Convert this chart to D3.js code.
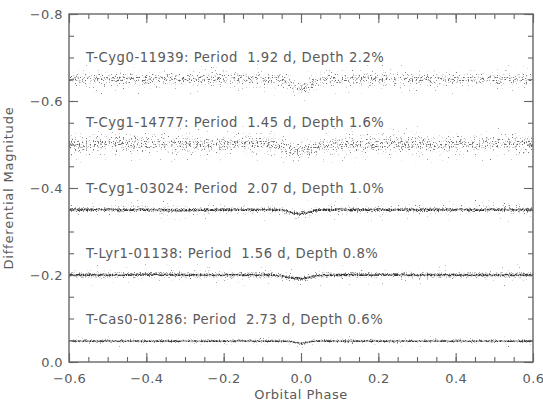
<!DOCTYPE html>
<html><head><meta charset="utf-8">
<script src="https://cdn.jsdelivr.net/npm/d3@7"></script>
<style>
body{margin:0;background:#fff}
svg{display:block}
text{font-family:"DejaVu Sans",sans-serif;fill:#5a5a5a}
</style>
</head><body>
<svg id="c" width="543" height="403"></svg>
<script>
// ---------- data ----------
const phase = [-0.6,-0.5,-0.4,-0.3,-0.2,-0.1,-0.06,-0.04,-0.02,0,0.02,0.04,0.06,0.1,0.2,0.3,0.4,0.5,0.6];
const names   = ["T-Cyg0-11939","T-Cyg1-14777","T-Cyg1-03024","T-Lyr1-01138","T-Cas0-01286"];
const periods = [1.92,1.45,2.07,1.56,2.73];
const depths  = [2.2,1.6,1.0,0.8,0.6];
// mean differential magnitude of each folded light curve at the phases above
const magCyg0_11939 = [-0.650,-0.651,-0.649,-0.650,-0.651,-0.650,-0.649,-0.644,-0.634,-0.628,-0.635,-0.645,-0.650,-0.651,-0.650,-0.649,-0.650,-0.651,-0.650];
const magCyg1_14777 = [-0.500,-0.502,-0.501,-0.500,-0.501,-0.500,-0.498,-0.493,-0.487,-0.485,-0.489,-0.495,-0.499,-0.501,-0.500,-0.501,-0.500,-0.502,-0.501];
const magCyg1_03024 = [-0.350,-0.350,-0.350,-0.349,-0.350,-0.350,-0.350,-0.348,-0.342,-0.341,-0.344,-0.349,-0.350,-0.350,-0.350,-0.350,-0.350,-0.350,-0.350];
const magLyr1_01138 = [-0.200,-0.200,-0.201,-0.200,-0.200,-0.200,-0.199,-0.196,-0.193,-0.192,-0.194,-0.198,-0.200,-0.200,-0.201,-0.200,-0.200,-0.200,-0.200];
const magCas0_01286 = [-0.048,-0.048,-0.048,-0.048,-0.048,-0.048,-0.048,-0.048,-0.046,-0.043,-0.046,-0.048,-0.048,-0.048,-0.048,-0.048,-0.048,-0.048,-0.048];
// half-width of the point scatter (mag): far outliers, outer band, main band, dense core
const scatterFar   = [0.036,0.042,0.028,0.026,0.014];
const scatterOuter = [0.020,0.026,0.012,0.011,0.007];
const scatterMid   = [0.012,0.016,0.006,0.006,0.004];
const scatterCore  = [0.006,0.008,0.0028,0.0028,0.002];
const xTicks = [-0.6,-0.4,-0.2,0.0,0.2,0.4,0.6];
const yTicks = [-0.8,-0.6,-0.4,-0.2,0.0];
const xLabel = "Orbital Phase";
const yLabel = "Differential Magnitude";

const curves = [magCyg0_11939,magCyg1_14777,magCyg1_03024,magLyr1_01138,magCas0_01286];

// ---------- layout ----------
const W=543,H=403, L=69,R=533,T=14,B=362;
const svg=d3.select("#c");
const x=d3.scaleLinear().domain([-0.6,0.6]).range([L,R]);
const y=d3.scaleLinear().domain([-0.8,0.0]).range([T,B]);
const defs=svg.append("defs");

function speckle(id, seed, intercept, col){
  const f=defs.append("filter").attr("id",id).attr("filterUnits","userSpaceOnUse")
    .attr("x",0).attr("y",0).attr("width",W).attr("height",H)
    .attr("color-interpolation-filters","sRGB");
  f.append("feTurbulence").attr("type","fractalNoise").attr("baseFrequency","0.73 0.61")
    .attr("numOctaves",2).attr("seed",seed).attr("result","n");
  const c=d3.rgb(col);
  f.append("feColorMatrix").attr("in","n").attr("type","matrix")
    .attr("values",`0 0 0 0 ${c.r/255} 0 0 0 0 ${c.g/255} 0 0 0 0 ${c.b/255} 9 0 0 0 ${intercept}`)
    .attr("result","d");
  f.append("feComposite").attr("in","d").attr("in2","SourceAlpha").attr("operator","in");
}
// per-curve styles: thresholds of the speckle texture for each band
const styles=[
  {f:-6.8,o:-6.2,m:-5.7,k:-5.3,col:"#777",kcol:"#666",line:0,   seed:3},
  {f:-6.8,o:-6.2,m:-5.7,k:-5.3,col:"#777",kcol:"#666",line:0,   seed:11},
  {f:-6.9,o:-6.2,m:-5.4,k:-4.2,col:"#777",kcol:"#333",line:1.1, seed:23},
  {f:-6.9,o:-6.2,m:-5.4,k:-4.2,col:"#777",kcol:"#333",line:1.1, seed:37},
  {f:-7.0,o:-6.3,m:-5.3,k:-4.2,col:"#777",kcol:"#333",line:1.0, seed:53}
];
styles.forEach((s,i)=>{
  speckle(`f${i}`,s.seed,s.f,s.col);
  speckle(`o${i}`,s.seed+1,s.o,s.col);
  speckle(`m${i}`,s.seed+2,s.m,s.col);
  speckle(`k${i}`,s.seed+3,s.k,s.kcol);
});
defs.append("clipPath").attr("id","plot").append("rect")
  .attr("x",L).attr("y",T).attr("width",R-L).attr("height",B-T);

const g=svg.append("g").attr("clip-path","url(#plot)");
curves.forEach((mags,i)=>{
  const pts=phase.map((p,j)=>({p,m:mags[j]}));
  const band=w=>d3.area().x(d=>x(d.p)).y0(d=>y(d.m-w)).y1(d=>y(d.m+w)).curve(d3.curveMonotoneX);
  [["f",scatterFar],["o",scatterOuter],["m",scatterMid],["k",scatterCore]].forEach(([k,arr])=>{
    g.append("path").datum(pts).attr("d",band(arr[i])).attr("fill","#000").attr("filter",`url(#${k}${i})`);
  });
  if(styles[i].line>0){
    g.append("path").datum(pts)
      .attr("d",d3.line().x(d=>x(d.p)).y(d=>y(d.m)).curve(d3.curveMonotoneX))
      .attr("fill","none").attr("stroke","#444").attr("stroke-width",styles[i].line).attr("opacity",0.6);
  }
  svg.append("text").attr("x",x(-0.556)).attr("y",y(mags[0]-0.05))
    .attr("dominant-baseline","central").attr("font-size",13.2)
    .attr("letter-spacing",0.5)
    .style("white-space","pre")
    .text(`${names[i]}: Period  ${periods[i].toFixed(2)} d, Depth ${depths[i].toFixed(1)}%`);
});

// ---------- axes ----------
const fmt=d3.format(".1f");
const xMinor=d3.range(-0.6,0.6001,0.05).map(v=>+v.toFixed(2));
const yMinor=d3.range(-0.8,0.0001,0.05).map(v=>+v.toFixed(2));
function style(sel){sel.select(".domain").remove();sel.selectAll("line").attr("stroke","#666").attr("stroke-width",1.1);
  sel.selectAll("text").attr("font-size",13).style("fill","#5a5a5a").attr("font-family","DejaVu Sans").attr("letter-spacing",0.4);}
svg.append("g").attr("transform",`translate(0,${B})`).call(d3.axisBottom(x).tickValues(xMinor).tickSize(-5).tickFormat("")).call(style);
svg.append("g").attr("transform",`translate(0,${B})`).call(d3.axisBottom(x).tickValues(xTicks).tickSize(-9).tickPadding(12).tickFormat(fmt)).call(style);
svg.append("g").attr("transform",`translate(0,${T})`).call(d3.axisTop(x).tickValues(xMinor).tickSize(-5).tickFormat("")).call(style);
svg.append("g").attr("transform",`translate(0,${T})`).call(d3.axisTop(x).tickValues(xTicks).tickSize(-9).tickFormat("")).call(style);
svg.append("g").attr("transform",`translate(${L},0)`).call(d3.axisLeft(y).tickValues(yMinor).tickSize(-5).tickFormat("")).call(style);
svg.append("g").attr("transform",`translate(${L},0)`).call(d3.axisLeft(y).tickValues(yTicks).tickSize(-9).tickPadding(6).tickFormat(fmt)).call(style);
svg.append("g").attr("transform",`translate(${R},0)`).call(d3.axisRight(y).tickValues(yMinor).tickSize(-5).tickFormat("")).call(style);
svg.append("g").attr("transform",`translate(${R},0)`).call(d3.axisRight(y).tickValues(yTicks).tickSize(-9).tickFormat("")).call(style);
svg.append("rect").attr("x",L).attr("y",T).attr("width",R-L).attr("height",B-T)
  .attr("fill","none").attr("stroke","#666").attr("stroke-width",1.4);

svg.append("text").attr("x",(L+R)/2).attr("y",399).attr("text-anchor","middle").attr("font-size",13)
  .attr("letter-spacing",0.5).text(xLabel);
svg.append("text").attr("transform",`translate(13,${(T+B)/2}) rotate(-90)`).attr("text-anchor","middle")
  .attr("font-size",13).attr("letter-spacing",0.8).text(yLabel);
</script>
</body></html>
